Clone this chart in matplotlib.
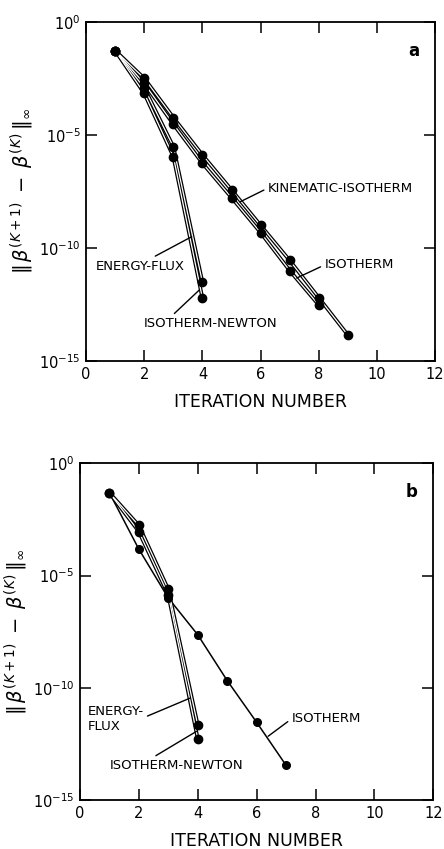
import matplotlib
matplotlib.use("Agg")
import matplotlib.pyplot as plt
import numpy as np
from matplotlib.ticker import FixedLocator, NullLocator

plt.rcParams['font.family'] = ['DejaVu Sans']

# ---------------- data : panel a ----------------
iter_a_iso = [1, 2, 3, 4, 5, 6, 7, 8, 9]
err_a_iso = [5.4e-2, 3.2e-3, 5.9e-5, 1.3e-6, 3.7e-8, 1.0e-9, 2.8e-11, 6.3e-13, 1.4e-14]
iter_a_kin = [1, 2, 3, 4, 5, 6, 7, 8]
err_a_kin = [5.4e-2, 1.9e-3, 3.0e-5, 5.6e-7, 1.7e-8, 4.8e-10, 1.0e-11, 3.0e-13]
iter_a_ef = [1, 2, 3, 4]
err_a_ef = [5.4e-2, 1.2e-3, 3.0e-6, 3.0e-12]
iter_a_newt = [1, 2, 3, 4]
err_a_newt = [5.4e-2, 6.9e-4, 1.1e-6, 5.9e-13]

# ---------------- data : panel b ----------------
iter_b_iso = [1, 2, 3, 4, 5, 6, 7]
err_b_iso = [4.9e-2, 1.5e-4, 1.0e-6, 2.3e-8, 2.1e-10, 2.9e-12, 3.5e-14]
iter_b_ef = [1, 2, 3, 4]
err_b_ef = [4.9e-2, 1.7e-3, 2.4e-6, 2.2e-12]
iter_b_newt = [1, 2, 3, 4]
err_b_newt = [4.9e-2, 9.1e-4, 1.4e-6, 5.4e-13]

xticks = [0, 2, 4, 6, 8, 10, 12]
xticklabels = ['0', '2', '4', '6', '8', '10', '12']
yticks = [1e0, 1e-5, 1e-10, 1e-15]
yticklabels = [r'$10^{0}$', r'$10^{-5}$', r'$10^{-10}$', r'$10^{-15}$']

fig = plt.figure(figsize=(4.44, 8.49), dpi=100)
axa = fig.add_axes([0.194, 0.5748, 0.786, 0.3993])
axb = fig.add_axes([0.180, 0.0577, 0.796, 0.3966])


def hollow(ax, x, y):
    ax.plot(x, y, '-', color='black', lw=2.7, solid_capstyle='round', zorder=2)
    ax.plot(x, y, '-', color='white', lw=0.9, solid_capstyle='round', zorder=3)
    ax.plot(x, y, 'o', color='black', ms=6, zorder=4)


def thin(ax, x, y):
    ax.plot(x, y, '-', color='black', lw=1.1, zorder=2)
    ax.plot(x, y, 'o', color='black', ms=5.5, zorder=4)


def style(ax, letter):
    ax.set_yscale('log')
    ax.set_xlim(0, 12)
    ax.set_ylim(1e-15, 1e0)
    ax.xaxis.set_major_locator(FixedLocator(xticks))
    ax.set_xticklabels(xticklabels)
    ax.yaxis.set_major_locator(FixedLocator(yticks))
    ax.yaxis.set_minor_locator(NullLocator())
    ax.set_yticklabels(yticklabels)
    ax.tick_params(which='major', direction='in', length=8, width=1.1,
                   top=True, right=True, labelsize=10.5, pad=4)
    for s in ax.spines.values():
        s.set_linewidth(1.3)
    ax.set_xlabel('ITERATION NUMBER', fontsize=12.5, labelpad=8)
    ax.set_ylabel(r'$\|\,\beta^{(K+1)}\;-\;\beta^{(K)}\,\|_{\infty}$',
                  fontsize=14, labelpad=2)
    ax.text(0.955, 0.915, letter, transform=ax.transAxes, fontsize=12,
            fontweight='bold', ha='right', va='center')


# panel a
hollow(axa, iter_a_iso, err_a_iso)
hollow(axa, iter_a_kin, err_a_kin)
hollow(axa, iter_a_ef, err_a_ef)
hollow(axa, iter_a_newt, err_a_newt)
style(axa, 'a')
axa.annotate('KINEMATIC-ISOTHERM', xy=(5.29, 10**-7.96), xytext=(6.25, 10**-7.35),
             fontsize=9.5, ha='left', va='center',
             arrowprops=dict(arrowstyle='-', lw=1.0, color='black', shrinkA=1, shrinkB=0,
                             relpos=(0, 0.5)))
axa.annotate('ISOTHERM', xy=(7.24, 10**-11.33), xytext=(8.2, 10**-10.75),
             fontsize=9.5, ha='left', va='center',
             arrowprops=dict(arrowstyle='-', lw=1.0, color='black', shrinkA=1, shrinkB=0,
                             relpos=(0, 0.5)))
axa.annotate('ENERGY-FLUX', xy=(3.63, 10**-9.5), xytext=(0.32, 10**-10.8),
             fontsize=9.5, ha='left', va='center',
             arrowprops=dict(arrowstyle='-', lw=1.0, color='black', shrinkA=1, shrinkB=0,
                             relpos=(0.6, 1.0)))
axa.annotate('ISOTHERM-NEWTON', xy=(3.89, 10**-11.86), xytext=(1.98, 10**-13.35),
             fontsize=9.5, ha='left', va='center',
             arrowprops=dict(arrowstyle='-', lw=1.0, color='black', shrinkA=1, shrinkB=0,
                             relpos=(0.2, 1.0)))

# panel b
thin(axb, iter_b_iso, err_b_iso)
hollow(axb, iter_b_ef, err_b_ef)
hollow(axb, iter_b_newt, err_b_newt)
style(axb, 'b')
axb.annotate('ENERGY-\nFLUX', xy=(3.74, 10**-10.46), xytext=(0.25, 10**-11.4),
             fontsize=9.5, ha='left', va='center', linespacing=1.25,
             arrowprops=dict(arrowstyle='-', lw=1.0, color='black', shrinkA=1, shrinkB=0,
                             relpos=(1.0, 0.55)))
axb.annotate('ISOTHERM-NEWTON', xy=(3.96, 10**-11.94), xytext=(1.02, 10**-13.47),
             fontsize=9.5, ha='left', va='center',
             arrowprops=dict(arrowstyle='-', lw=1.0, color='black', shrinkA=1, shrinkB=0,
                             relpos=(0.3, 1.0)))
axb.annotate('ISOTHERM', xy=(6.39, 10**-12.16), xytext=(7.19, 10**-11.38),
             fontsize=9.5, ha='left', va='center',
             arrowprops=dict(arrowstyle='-', lw=1.0, color='black', shrinkA=1, shrinkB=0,
                             relpos=(0, 0.5)))

fig.savefig('out.png', dpi=100, facecolor='white')
